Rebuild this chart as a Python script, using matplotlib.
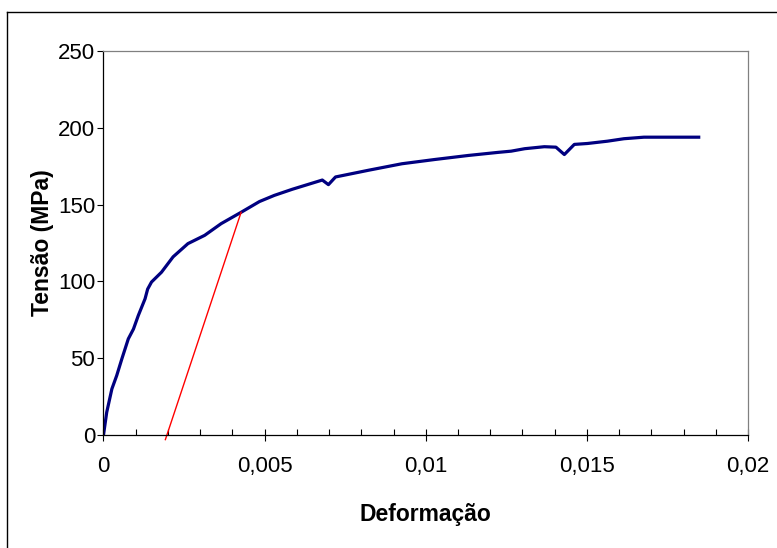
import matplotlib.pyplot as plt
from matplotlib.ticker import MultipleLocator, FuncFormatter
from matplotlib.lines import Line2D

plt.rcParams['font.family'] = ['Liberation Sans', 'DejaVu Sans']

# Stress-strain curve
strain = [0, 0.0001, 0.00026, 0.00041, 0.00057, 0.00077, 0.00093, 0.00108,
          0.00129, 0.00137, 0.00149, 0.0018, 0.00216, 0.00262, 0.00314,
          0.00365, 0.00427, 0.00484, 0.0053, 0.00586, 0.00679, 0.00698,
          0.0072, 0.00823, 0.00926, 0.01029, 0.01132, 0.01224, 0.01265,
          0.01307, 0.01368, 0.01404, 0.0143, 0.01461, 0.01502, 0.01564,
          0.01615, 0.01677, 0.01847]
stress = [0, 14.8, 30, 38.7, 49.6, 62.6, 69, 77.8,
          88.7, 95, 99.6, 106, 116, 124.6, 130,
          137.6, 145, 152, 156, 160, 166, 163,
          168, 172.4, 176.6, 179.4, 182, 184, 184.8,
          186.4, 187.7, 187.4, 182.6, 189.2, 189.8, 191.3,
          192.9, 193.9, 193.9]

# offset (0.2%) line
offset_x = [0.00192, 0.00427]
offset_y = [-3, 145]

fig = plt.figure(figsize=(7.77, 5.48), dpi=100)
ax = fig.add_axes([0.1332, 0.2062, 0.8295, 0.7007])

ax.plot(strain, stress, color='#000080', linewidth=2.3, solid_joinstyle='round')
ax.plot(offset_x, offset_y, color='#ff0000', linewidth=1.0, clip_on=False)

ax.set_xlim(0, 0.02)
ax.set_ylim(0, 250)
ax.xaxis.set_major_locator(MultipleLocator(0.005))
ax.xaxis.set_minor_locator(MultipleLocator(0.001))
ax.yaxis.set_major_locator(MultipleLocator(50))

def comma_fmt(v, pos):
    if abs(v) < 1e-12:
        return '0'
    return ('%g' % v).replace('.', ',')

ax.xaxis.set_major_formatter(FuncFormatter(comma_fmt))

ax.tick_params(axis='x', which='major', direction='inout', length=8, width=0.8,
               labelsize=16, pad=11)
ax.tick_params(axis='x', which='minor', direction='in', length=4, width=0.8)
ax.tick_params(axis='y', which='major', direction='out', length=4, width=0.8,
               labelsize=16, pad=2)

ax.spines['left'].set_color('black')
ax.spines['bottom'].set_color('black')
ax.spines['top'].set_color('#808080')
ax.spines['right'].set_color('#808080')
for s in ax.spines.values():
    s.set_linewidth(0.9)

ax.set_xlabel('Deformação', fontsize=16.5, fontweight='bold', labelpad=19)
ax.set_ylabel('Tensão (MPa)', fontsize=16.5, fontweight='bold', labelpad=3)

# chart outer border (only top and left visible in the crop)
fig.add_artist(Line2D([7 / 777, 7 / 777], [0, 1 - 12 / 548], color='black', linewidth=1))
fig.add_artist(Line2D([7 / 777, 1], [1 - 12 / 548, 1 - 12 / 548], color='black', linewidth=1))

plt.savefig('out.png', dpi=100)
